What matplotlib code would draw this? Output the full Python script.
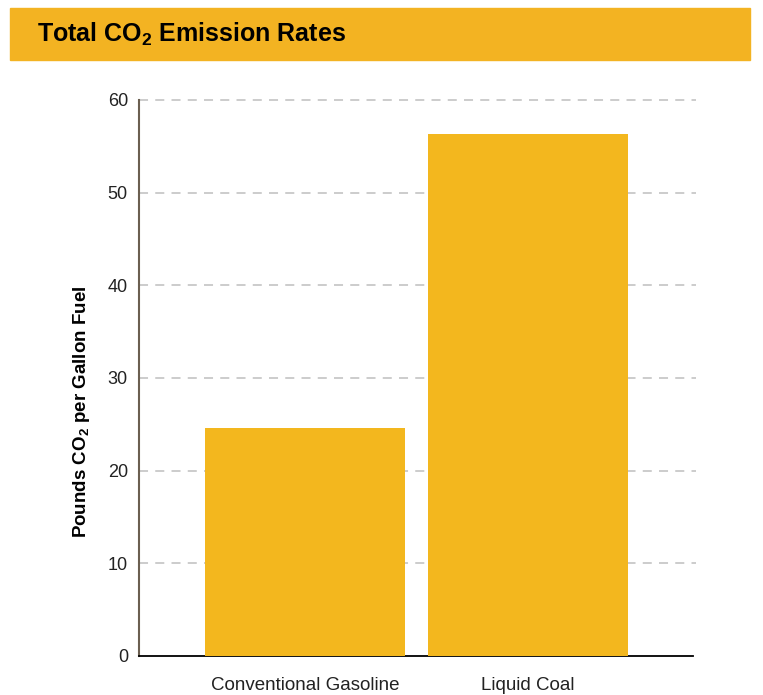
import matplotlib.pyplot as plt
from matplotlib.patches import Rectangle

# Datos del gráfico
categorias = ['Conventional Gasoline', 'Liquid Coal']
valores = [24.6, 56.3]
ticks_y = [0, 10, 20, 30, 40, 50, 60]

amarillo = '#F3B71E'
banda = '#F3B322'

plt.rcParams['font.family'] = ['Liberation Sans', 'DejaVu Sans']
plt.rcParams['mathtext.fontset'] = 'custom'
plt.rcParams['mathtext.rm'] = 'Liberation Sans'
plt.rcParams['mathtext.bf'] = 'Liberation Sans:bold'

fig = plt.figure(figsize=(7.63, 6.95), dpi=100)

# Banda del título
fig.patches.append(Rectangle((10 / 763, 1 - 60 / 695), 740 / 763, 52 / 695,
                             transform=fig.transFigure, color=banda, zorder=0))
fig.text(37 / 763, 1 - 42 / 695, r'Total CO$_\mathbf{2}$ Emission Rates',
         fontsize=18, fontweight='bold', color='black', va='baseline')

ax = fig.add_axes([139 / 763, 39 / 695, 557 / 763, 556 / 695])
x = range(len(categorias))
ax.bar(x, valores, width=0.897, color=amarillo, zorder=3)

ax.set_xlim(-0.744, 1.753)
ax.set_ylim(0, 60)
ax.set_yticks(ticks_y)
ax.set_xticks(list(x))
ax.set_xticklabels(categorias)
ax.tick_params(axis='y', length=0, pad=8, labelsize=13, labelcolor='#222222')
ax.tick_params(axis='x', length=0, pad=15, labelsize=13.5, labelcolor='#222222')

# Líneas de cuadrícula discontinuas
for v in ticks_y[1:]:
    ax.axhline(v, color='#c8c8c8', lw=1.3, dashes=(5, 4), zorder=1, clip_on=False)

for lado in ['top', 'right']:
    ax.spines[lado].set_visible(False)
ax.spines['left'].set_color('#6b5f50')
ax.spines['left'].set_linewidth(1.5)
ax.spines['bottom'].set_color('black')
ax.spines['bottom'].set_linewidth(1.3)
ax.spines['bottom'].set_bounds(-0.744, 1.74)

ax.set_ylabel(r'Pounds CO$_\mathbf{2}$ per Gallon Fuel', fontsize=13.5,
              fontweight='bold')
ax.yaxis.set_label_coords(-0.084, 0.44)

fig.savefig('out.png', dpi=100)
